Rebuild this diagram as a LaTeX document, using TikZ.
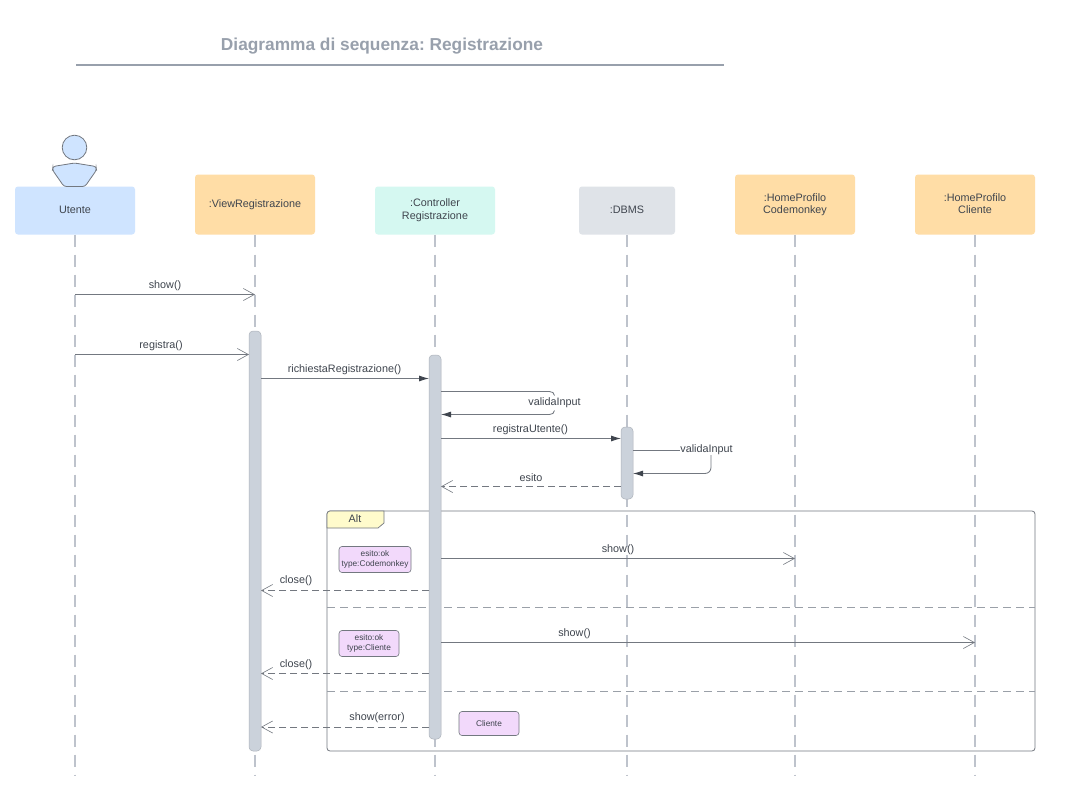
\documentclass[tikz,border=0pt]{standalone}
\usepackage{fontspec}
\setmainfont{Liberation Sans}
\usetikzlibrary{arrows.meta,calc}
\frenchspacing
\definecolor{ln}{HTML}{737880}
\definecolor{txt}{HTML}{3F454E}
\definecolor{life}{HTML}{BEC3CC}
\definecolor{barf}{HTML}{CBD2DB}
\definecolor{blueb}{HTML}{CFE4FF}
\definecolor{orab}{HTML}{FFDDA6}
\definecolor{mint}{HTML}{D5F8F1}
\definecolor{greyb}{HTML}{DFE3E8}
\definecolor{pinkb}{HTML}{F2D9FB}
\definecolor{tabb}{HTML}{FFFBCC}
\definecolor{titlec}{HTML}{98A0AC}
\definecolor{divc}{HTML}{9AA0A8}
\tikzset{
  x=1pt,y=-1pt,
  every node/.style={font=\fontsize{10.8}{13}\selectfont,text=txt,inner sep=0pt,outer sep=0pt},
  head/.style={rounded corners=3pt,minimum height=48pt,minimum width=120pt,align=center,anchor=center},
  lifeline/.style={draw=life,line width=1.5pt,dash pattern=on 12pt off 8pt},
  actbar/.style={draw=barf!85!black,fill=barf,line width=0.5pt,rounded corners=4pt,minimum width=12pt},
  note/.style={draw=ln,fill=pinkb,rounded corners=3pt,line width=0.6pt,align=center,font=\fontsize{8.3}{10.5}\selectfont},
  msg/.style={draw=ln,line width=0.85pt},
  sync/.style={msg,-{Latex[length=10pt,width=6pt,color=txt]}},
  openar/.style={msg,-{Straight Barb[length=11pt,width=12pt,line width=0.6pt]}},
  ret/.style={msg,dash pattern=on 7.5pt off 3.5pt,-{Straight Barb[length=11pt,width=12pt,line width=0.6pt]}},
  lab/.style={anchor=center},
  divider/.style={draw=divc,line width=0.6pt,dash pattern=on 7.5pt off 5.5pt},
}
\begin{document}
\begin{tikzpicture}
\useasboundingbox (0,0) rectangle (1081,798);
\fill[white] (0,0) rectangle (1081,798);
% title
\node[font=\bfseries\fontsize{17.3}{20}\selectfont,text=titlec] (title) at (382,46) {Diagramma di sequenza: Registrazione};
\coordinate (tl) at (76,64.5);
\coordinate (tr) at (724,64.5);
\draw[draw=titlec,line width=2pt] (tl) -- (tr);
% heads
\node[head,fill=blueb] (u) at (75,210.5) {\raisebox{1pt}{Utente}};
\node[head,fill=orab,minimum height=60pt] (v) at (255,204.5) {\raisebox{1pt}{:ViewRegistrazione}};
\node[head,fill=mint] (c) at (435,210.5) {\raisebox{0.5pt}{:Controller}\\\raisebox{0.5pt}{Registrazione}};
\node[head,fill=greyb,minimum width=96pt] (d) at (627,210.5) {\raisebox{1pt}{:DBMS}};
\node[head,fill=orab,minimum height=60pt] (h) at (795,204.5) {\raisebox{1pt}{:HomeProfilo}\\\raisebox{1.5pt}{Codemonkey}};
\node[head,fill=orab,minimum height=60pt] (k) at (975,204.5) {\raisebox{1pt}{:HomeProfilo}\\\raisebox{1.5pt}{Cliente}};
% lifelines
\coordinate (uEnd) at (75,775);
\coordinate (vEnd) at (255,775);
\coordinate (cEnd) at (435,775);
\coordinate (dEnd) at (627,775);
\coordinate (hEnd) at (795,775);
\coordinate (kEnd) at (975,775);
\draw[lifeline] (u.south) -- (uEnd);
\draw[lifeline] (v.south) -- (vEnd);
\draw[lifeline] (c.south) -- (cEnd);
\draw[lifeline] (d.south) -- (dEnd);
\draw[lifeline] (h.south) -- (hEnd);
\draw[lifeline] (k.south) -- (kEnd);
% actor
\draw[draw=ln,fill=blueb,line width=0.8pt] (74.5,147.5) circle (12.3);
\draw[draw=ln,fill=blueb,line width=0.8pt,rounded corners=2.5pt]
  (64,186.5) -- (52.5,170) -- (53,166.5) -- (74.5,163) -- (96,166.5) -- (96.5,170) -- (85,186.5) -- cycle;
% alt frame
\node[draw=ln,rounded corners=3pt,line width=0.8pt,minimum width=708pt,minimum height=240pt,anchor=north west] (alt) at (327,511) {};
\draw[draw=ln,fill=tabb,line width=0.7pt] (327,514) -- (327,528) -- (378,528) -- (384,523) -- (384,511) -- (330,511) to[out=180,in=90] cycle;
\node (alttxt) at (355,519) {Alt};
\coordinate (d1a) at (327,607);
\coordinate (d1b) at (1035,607);
\coordinate (d2a) at (327,691);
\coordinate (d2b) at (1035,691);
\draw[divider] (d1a) -- (d1b);
\draw[divider] (d2a) -- (d2b);
% activation bars
\node[actbar,minimum height=420pt,anchor=north] (b1) at (255,331) {};
\node[actbar,minimum height=384pt,anchor=north] (b2) at (435,355) {};
\node[actbar,minimum height=72pt,anchor=north] (b3) at (627,427) {};
% notes
\node[note,minimum width=72pt,minimum height=26pt] (n1) at (375,559.5) {esito:ok\\type:Codemonkey};
\node[note,minimum width=60pt,minimum height=26pt] (n2) at (369,643.5) {esito:ok\\type:Cliente};
\node[note,minimum width=60pt,minimum height=24pt] (n3) at (489,723.5) {Cliente};
% messages
\coordinate (y1) at (0,294.5);
\coordinate (y2) at (0,354.5);
\coordinate (y3) at (0,378.5);
\coordinate (y4) at (0,438.5);
\coordinate (y5) at (0,486.5);
\coordinate (y6) at (0,558.5);
\coordinate (y7) at (0,590.5);
\coordinate (y8) at (0,642.5);
\coordinate (y9) at (0,673.5);
\coordinate (y10) at (0,727);
\draw[openar] (u.south |- y1) -- (v.south |- y1);
\node[lab] (l1) at (165,286) {show()};
\draw[openar] (u.south |- y2) -- (b1.west |- y2);
\node[lab] (l2) at (161,346) {registra()};
\draw[sync] (b1.east |- y3) -- (b2.west |- y3);
\node[lab] (l3) at (344.5,370) {richiestaRegistrazione()};
% self call on controller
\coordinate (s1a) at (554.5,391.5);
\coordinate (s1b) at (554.5,414.5);
\draw[msg] (b2.east |- s1a) -- ($(s1a)+(-5,0)$) to[out=0,in=90] ($(s1a)+(0,4)$);
\draw[sync] ($(s1b)+(0,-4)$) to[out=-90,in=0] ($(s1b)+(-5,0)$) -- (b2.east |- s1b);
\node[lab,fill=white] (l4) at (554.5,402.5) {validaInput};
\draw[sync] (b2.east |- y4) -- (b3.west |- y4);
\node[lab] (l5) at (530.5,429.5) {registraUtente()};
% self call on DBMS
\node[lab,anchor=center,fill=white] (l6) at (706.5,450) {validaInput};
\coordinate (s2a) at (0,450.5);
\coordinate (s2b) at (711,473.5);
\draw[msg] (b3.east |- s2a) -- (l6.west |- s2a);
\draw[sync] (l6.south -| s2b) -- ($(s2b)+(0,-6)$) to[out=-90,in=0] ($(s2b)+(-6,0)$) -- (b3.east |- s2b);
\draw[ret] (b3.west |- y5) -- (b2.east |- y5);
\node[lab] (l7) at (531,478) {esito};
\draw[openar] (b2.east |- y6) -- (h.south |- y6);
\node[lab] (l8) at (618,550) {show()};
\draw[ret] (b2.west |- y7) -- (b1.east |- y7);
\node[lab] (l9) at (296,581) {close()};
\draw[openar] (b2.east |- y8) -- (k.south |- y8);
\node[lab] (l10) at (574.5,634) {show()};
\draw[ret] (b2.west |- y9) -- (b1.east |- y9);
\node[lab] (l11) at (296,665) {close()};
\draw[ret] (b2.west |- y10) -- (b1.east |- y10);
\node[lab] (l12) at (377,718) {show(error)};
\end{tikzpicture}
\end{document}
